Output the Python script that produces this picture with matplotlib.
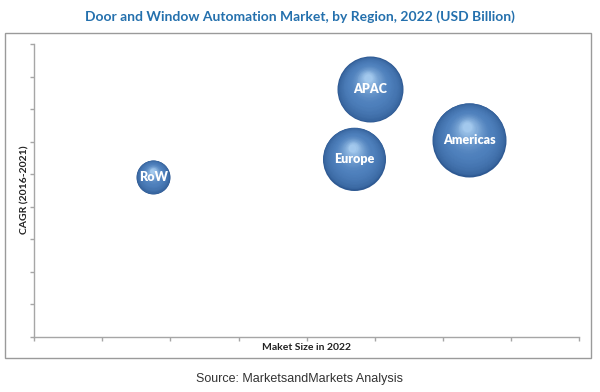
import numpy as np
import matplotlib.pyplot as plt
import matplotlib.transforms as mtransforms
from matplotlib.patches import Rectangle
from matplotlib.colors import to_rgb

# data
regions = ['RoW', 'Europe', 'APAC', 'Americas']
market_size = [1.75, 4.70, 4.93, 6.39]     # x position
cagr = [4.92, 5.48, 7.62, 6.06]            # y position
bubble_radius = [17, 31.5, 33, 37]         # bubble radius in px

title = 'Door and Window Automation Market, by Region, 2022 (USD Billion)'
x_label = 'Maket Size in 2022'
y_label = 'CAGR (2016-2021)'
source = 'Source: MarketsandMarkets Analysis'

dpi = 100
fig = plt.figure(figsize=(6, 3.92), dpi=dpi)
ax = fig.add_axes([34.3 / 600, 1 - 336.7 / 392, 544.7 / 600, 292.4 / 392])

# outer frame
fig.patches.append(Rectangle((5 / 600, 1 - 358 / 392), 586 / 600, 325 / 392,
                             transform=fig.transFigure, fill=False,
                             edgecolor='#9a9a9a', linewidth=1.0))

ax.set_xlim(0, 8)
ax.set_ylim(0, 9)
ax.set_xticks(np.arange(0, 9))
ax.set_yticks(np.arange(0, 10))
ax.set_xticklabels([])
ax.set_yticklabels([])
for side in ['top', 'right']:
    ax.spines[side].set_visible(False)
for side in ['left', 'bottom']:
    ax.spines[side].set_color('#a6a6a6')
    ax.spines[side].set_linewidth(1.0)
ax.tick_params(colors='#a6a6a6', length=3, width=1, direction='out')

edge = np.array(to_rgb('#2e5992'))
mid = np.array(to_rgb('#4e80bc'))
light = np.array(to_rgb('#a8cdf0'))

n = 40
px2pt = 72 / dpi
for x, y, r, name in zip(market_size, cagr, bubble_radius, regions):
    # base dark ring
    ax.scatter([x], [y], s=(2 * r * px2pt) ** 2, color=edge, zorder=2, linewidths=0)
    for i in range(1, n):
        t = i / n
        rr = r * (1 - 0.9 * t)
        # shift highlight up and a bit left
        off = mtransforms.offset_copy(ax.transData, fig=fig,
                                      x=-0.06 * r * t * px2pt,
                                      y=0.36 * r * t * px2pt, units='points')
        if t < 0.4:
            c = edge + (mid - edge) * (t / 0.4) ** 0.5
        else:
            c = mid + (light - mid) * ((t - 0.4) / 0.6) ** 1.6
        ax.scatter([x], [y], s=(2 * rr * px2pt) ** 2, color=c, zorder=2 + t,
                   linewidths=0, transform=off)
    ax.text(x, y, name, ha='center', va='center', color='white',
            fontsize=9, fontweight='heavy', family=['Lato', 'DejaVu Sans'], zorder=5)

fig.text(0.5, 1 - 17 / 392, title, ha='center', va='center', color='#2470ad',
         fontsize=10, fontweight='bold', family=['Lato', 'DejaVu Sans'])
fig.text(306.7 / 600, 1 - 348 / 392, x_label, ha='center', va='center', color='#222222',
         fontsize=7.5, fontweight='bold', family=['Lato', 'DejaVu Sans'])
fig.text(25 / 600, 1 - 190 / 392, y_label, ha='center', va='center', rotation=90,
         color='#222222', fontsize=7.5, fontweight='bold', family=['Lato', 'DejaVu Sans'])
fig.text(0.5, 1 - 379 / 392, source, ha='center', va='center', color='#333333',
         fontsize=9, family=['Liberation Sans', 'DejaVu Sans'])

fig.savefig('out.png', dpi=dpi)
